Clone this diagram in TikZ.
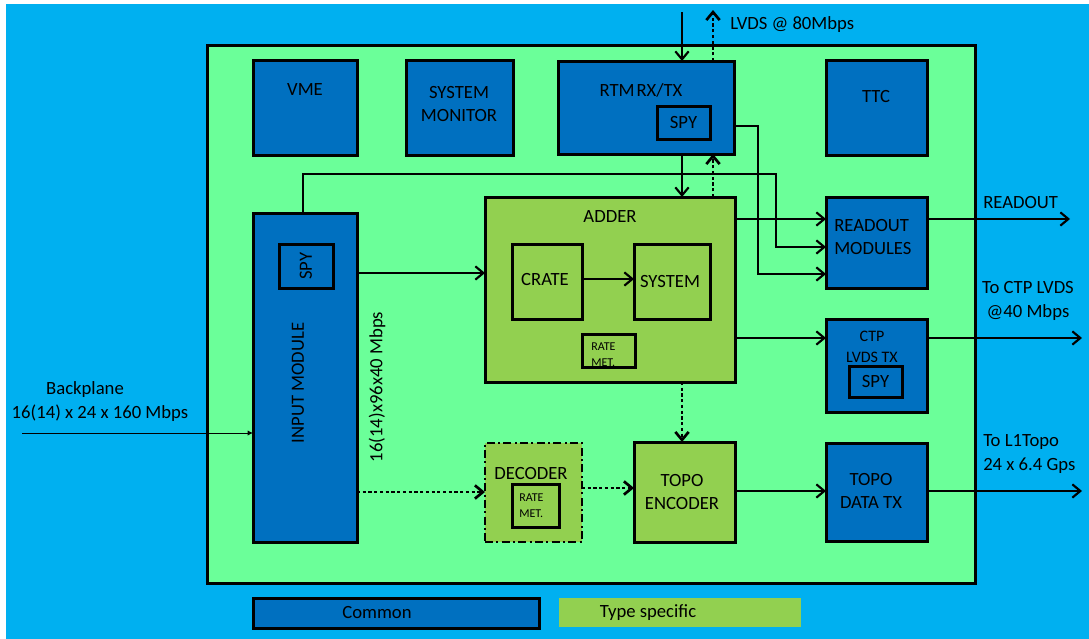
\documentclass[tikz,border=0pt]{standalone}
\usepackage{fontspec}
\setmainfont{Carlito}
\usetikzlibrary{arrows.meta,fit}
\definecolor{bgblue}{HTML}{00B0F0}
\definecolor{boardgreen}{HTML}{6BFF99}
\definecolor{cblue}{HTML}{0070C0}
\definecolor{tgreen}{HTML}{92D050}
\begin{document}
\begin{tikzpicture}[x=0.75pt,y=-0.75pt,
  bord/.style={draw=black, line width=2.25pt},
  cbox/.style={bord, fill=cblue, inner sep=0pt, outer sep=0pt},
  tbox/.style={bord, fill=tgreen, inner sep=0pt, outer sep=0pt},
  lbl/.style={font=\fontsize{14}{17.5}\selectfont, inner sep=0pt, align=center, text=black},
  smalllbl/.style={font=\fontsize{9}{12}\selectfont, inner sep=0pt, align=left, text=black},
  conn/.style={line width=1.6pt, draw=black},
  arr/.style={conn, -{Straight Barb[length=6pt,width=10pt]}},
  darr/.style={arr, dash pattern=on 2.4pt off 1.9pt, line width=2pt},
  thinarr/.style={line width=0.75pt, draw=black, -{Latex[length=4pt,width=4pt]}},
]
\useasboundingbox (0,0) rectangle (1089,639);
\fill[white] (0,0) rectangle (1089,639);
\fill[bgblue] (6,4) rectangle (1089,639);

% board
\node[bord, fill=boardgreen, inner sep=0pt, outer sep=0pt, fit={(207,45) (975,583)}] (board) {};

% common blocks
\node[cbox, fit={(253,60) (357,155)}] (vme) {};
\node[cbox, fit={(406,60) (513,155)}] (sysmon) {};
\node[cbox, fit={(558,61) (734,154)}] (rtm) {};
\node[cbox, fit={(657,106) (710,139)}] (rtmspy) {};
\node[cbox, fit={(826,60) (927,155)}] (ttc) {};
\node[cbox, fit={(253,213) (357,542)}] (input) {};
\node[cbox, fit={(279,244) (333,288)}] (inspy) {};
\node[cbox, fit={(826,197) (927,288)}] (readout) {};
\node[cbox, fit={(826,319) (927,412)}] (ctp) {};
\node[cbox, fit={(849,366) (902,397)}] (ctpspy) {};
\node[cbox, fit={(826,443) (927,541)}] (topotx) {};

% type specific blocks
\node[tbox, fit={(485,197) (735,382)}] (adder) {};
\node[tbox, fit={(512,244) (582,319)}] (crate) {};
\node[tbox, fit={(634,244) (710,319)}] (system) {};
\node[fill=tgreen, inner sep=0pt, outer sep=0pt, fit={(582,334) (635,367)}] (addrate) {};
\node[fill=tgreen, draw=black, line width=1.5pt, dash pattern=on 6pt off 2.5pt on 1.5pt off 2.5pt, inner sep=0pt, outer sep=0pt, fit={(485,443) (582,542)}] (decoder) {};
\node[tbox, fit={(512,484) (559,527)}] (decrate) {};
\node[tbox, fit={(634,442) (735,542)}] (topoenc) {};

% labels
\node[lbl] (vmet) at (305,90) {VME};
\node[lbl] (sysmont) at (459,104) {SYSTEM\\MONITOR};
\node[lbl] (rtmt) at (641,90) {RTM\hspace{0.1em}RX/TX};
\node[lbl] (rtmspyt) at (rtmspy.center) {SPY};
\node[lbl] (ttct) at (876,97) {TTC};
\node[lbl, rotate=90] (inputt) at (298,383) {INPUT MODULE};
\node[lbl, rotate=90] (inspyt) at (inspy.center) {SPY};
\node[lbl, rotate=90] (ratet) at (377,387) {16(14)x96x40 Mbps};
\node[lbl] (addert) at (610,217) {ADDER};
\node[lbl] (cratet) at (545,280) {CRATE};
\node[lbl] (systemt) at (670,282) {SYSTEM};
\node[smalllbl, anchor=west] (addratet) at (591,355) {RATE\\MET.};
\draw[bord] (addrate.south west) rectangle (addrate.north east);
\node[lbl, align=left, anchor=west] (readoutt) at (834,237) {READOUT\\MODULES};
\node[lbl, font=\fontsize{12}{15.75}\selectfont] (ctpt) at (872,347) {CTP\\LVDS TX};
\node[lbl] (ctpspyt) at (ctpspy.center) {SPY};
\node[lbl] (topotxt) at (871,491) {TOPO\\DATA TX};
\node[lbl] (topoenct) at (682,492) {TOPO\\ENCODER};
\node[lbl] (decodert) at (531,474) {DECODER};
\node[smalllbl, anchor=west] (decratet) at (519,506) {RATE\\MET.};
\node[lbl, anchor=west] (lvdst) at (730,25) {LVDS @ 80Mbps};
\node[lbl, anchor=west] (readoutout) at (983,203) {READOUT};
\node[lbl] (ctpout) at (1028,301) {To CTP LVDS\\@40 Mbps};
\node[lbl, align=left, anchor=west] (topoout) at (983,454) {To L1Topo\\24 x 6.4 Gps};
\node[lbl] (bpt1) at (85,390) {Backplane};
\node[lbl] (bpt2) at (100,413) {16(14) x 24 x 160 Mbps};

% connectors
\coordinate (lvdsA) at (682,12);
\coordinate (lvdsB) at (713,10);
\draw[arr] (lvdsA) -- (lvdsA |- rtm.north);
\draw[darr] (lvdsB |- rtm.north) -- (lvdsB);
\draw[arr] (lvdsA |- rtm.south) -- (lvdsA |- adder.north);
\draw[darr] (lvdsB |- adder.north) -- (lvdsB |- rtm.south);

\coordinate (r1) at (758,126);
\coordinate (r2) at (758,274);
\draw[arr] (rtm.east |- r1) -- (r1) -- (r2) -- (readout.west |- r2);

\coordinate (i1) at (303,174);
\coordinate (i2) at (776,174);
\coordinate (i3) at (776,247);
\draw[arr] (input.north -| i1) -- (i1) -- (i2) -- (i3) -- (readout.west |- i3);

\coordinate (a1) at (735,219);
\coordinate (o1) at (1070,219);
\draw[arr] (adder.east |- a1) -- (readout.west |- a1);
\draw[arr] (readout.east |- o1) -- (o1);

\coordinate (a2) at (735,338);
\coordinate (o2) at (1082,338);
\draw[arr] (adder.east |- a2) -- (ctp.west |- a2);
\draw[arr] (ctp.east |- o2) -- (o2);

\coordinate (a3) at (735,491);
\coordinate (o3) at (1082,491);
\draw[arr] (topoenc.east |- a3) -- (topotx.west |- a3);
\draw[arr] (topotx.east |- o3) -- (o3);

\coordinate (a4) at (357,273);
\draw[arr] (input.east |- a4) -- (adder.west |- a4);
\coordinate (a5) at (357,492);
\draw[darr] (input.east |- a5) -- (decoder.west |- a5);
\coordinate (a6) at (582,488);
\draw[darr] (decoder.east |- a6) -- (topoenc.west |- a6);
\draw[darr] (adder.south -| lvdsA) -- (topoenc.north -| lvdsA);
\coordinate (a7) at (582,279);
\draw[arr] (crate.east |- a7) -- (system.west |- a7);

\coordinate (bp) at (22,433);
\draw[thinarr] (bp) -- (input.west |- bp);

% legend
\node[cbox, fit={(253,598) (539,628)}] (common) {};
\node[lbl] (commont) at (377,613) {Common};
\node[fill=tgreen, inner sep=0pt, outer sep=0pt, fit={(559,598) (801,627)}] (typespec) {};
\node[lbl] (typespect) at (648,613) {Type specific};
\end{tikzpicture}
\end{document}
